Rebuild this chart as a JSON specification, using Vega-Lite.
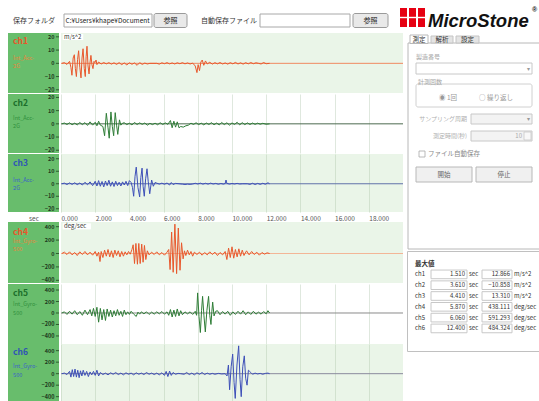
{
"$schema":"https://vega.github.io/schema/vega-lite/v6.json",
"padding":{"left":8,"top":0,"right":0,"bottom":0},
"background":"#ffffff",
"config":{"view":{"stroke":null},"concat":{"spacing":0},"font":"Noto Sans CJK JP","text":{"font":"Noto Sans CJK JP"},"axis":{"labelFont":"Noto Sans CJK JP"}},
"datasets":{
"accT":[{"v":20},{"v":10},{"v":0},{"v":-10},{"v":-20}],
"gyrT":[{"v":400},{"v":200},{"v":0},{"v":-200},{"v":-400}],
"w":[
{"c":"ch1","t":0.05,"v":0},{"c":"ch1","t":0.2,"v":0.5},{"c":"ch1","t":0.35,"v":-0.8},{"c":"ch1","t":0.5,"v":1.5},{"c":"ch1","t":0.58,"v":-3},{"c":"ch1","t":0.64,"v":-9},{"c":"ch1","t":0.71,"v":4},{"c":"ch1","t":0.78,"v":6.5},{"c":"ch1","t":0.84,"v":-4},{"c":"ch1","t":0.9,"v":-10},{"c":"ch1","t":0.97,"v":3},{"c":"ch1","t":1.03,"v":9.5},{"c":"ch1","t":1.1,"v":-3},{"c":"ch1","t":1.17,"v":-11},{"c":"ch1","t":1.23,"v":4},{"c":"ch1","t":1.29,"v":11},{"c":"ch1","t":1.36,"v":-4},{"c":"ch1","t":1.42,"v":-10},{"c":"ch1","t":1.47,"v":5},{"c":"ch1","t":1.52,"v":12.9},{"c":"ch1","t":1.58,"v":-2},{"c":"ch1","t":1.64,"v":-8},{"c":"ch1","t":1.7,"v":1},{"c":"ch1","t":1.75,"v":6},{"c":"ch1","t":1.81,"v":-1},{"c":"ch1","t":1.87,"v":-4},{"c":"ch1","t":1.93,"v":1.5},{"c":"ch1","t":1.98,"v":0.5},{"c":"ch1","t":2.05,"v":2.5},{"c":"ch1","t":2.1,"v":-1},{"c":"ch1","t":2.2,"v":1},{"c":"ch1","t":2.35,"v":-0.5},{"c":"ch1","t":2.5,"v":0.6},{"c":"ch1","t":2.65,"v":-0.4},{"c":"ch1","t":2.8,"v":0.5},{"c":"ch1","t":2.95,"v":-0.6},{"c":"ch1","t":3.1,"v":0.4},{"c":"ch1","t":3.25,"v":-0.8},{"c":"ch1","t":3.4,"v":0.5},{"c":"ch1","t":3.55,"v":-1},{"c":"ch1","t":3.7,"v":0.3},{"c":"ch1","t":3.85,"v":-1.2},{"c":"ch1","t":4.0,"v":0.4},{"c":"ch1","t":4.15,"v":-0.7},{"c":"ch1","t":4.3,"v":0.3},{"c":"ch1","t":4.45,"v":-1.5},{"c":"ch1","t":4.6,"v":0.5},{"c":"ch1","t":4.75,"v":-0.8},{"c":"ch1","t":4.9,"v":0.2},{"c":"ch1","t":5.05,"v":-0.5},{"c":"ch1","t":5.2,"v":0},{"c":"ch1","t":5.6,"v":0},{"c":"ch1","t":5.75,"v":-0.6},{"c":"ch1","t":5.9,"v":0.4},{"c":"ch1","t":6.05,"v":-0.3},{"c":"ch1","t":6.2,"v":0.5},{"c":"ch1","t":6.35,"v":-0.4},{"c":"ch1","t":6.5,"v":0.3},{"c":"ch1","t":6.65,"v":-0.5},{"c":"ch1","t":6.8,"v":0.4},{"c":"ch1","t":6.95,"v":-0.3},{"c":"ch1","t":7.1,"v":0.5},{"c":"ch1","t":7.25,"v":-0.4},{"c":"ch1","t":7.4,"v":0.3},{"c":"ch1","t":7.55,"v":-0.5},{"c":"ch1","t":7.7,"v":0.2},{"c":"ch1","t":7.85,"v":-2},{"c":"ch1","t":7.95,"v":-7},{"c":"ch1","t":8.02,"v":-1},{"c":"ch1","t":8.1,"v":-5.5},{"c":"ch1","t":8.18,"v":1},{"c":"ch1","t":8.26,"v":2.5},{"c":"ch1","t":8.35,"v":-1.5},{"c":"ch1","t":8.45,"v":1.8},{"c":"ch1","t":8.55,"v":-0.5},{"c":"ch1","t":8.7,"v":0.8},{"c":"ch1","t":8.85,"v":-0.6},{"c":"ch1","t":9.0,"v":0.5},{"c":"ch1","t":9.15,"v":-0.4},{"c":"ch1","t":9.3,"v":0.6},{"c":"ch1","t":9.45,"v":-0.5},{"c":"ch1","t":9.6,"v":0.3},{"c":"ch1","t":9.75,"v":-0.6},{"c":"ch1","t":9.9,"v":0.5},{"c":"ch1","t":10.05,"v":-0.4},{"c":"ch1","t":10.2,"v":0.7},{"c":"ch1","t":10.35,"v":-0.5},{"c":"ch1","t":10.5,"v":0.4},{"c":"ch1","t":10.65,"v":-0.6},{"c":"ch1","t":10.8,"v":0.5},{"c":"ch1","t":10.95,"v":-0.4},{"c":"ch1","t":11.1,"v":0.6},{"c":"ch1","t":11.25,"v":-0.3},{"c":"ch1","t":11.4,"v":0.4},{"c":"ch1","t":11.55,"v":0},{"c":"ch1","t":11.7,"v":-0.5},{"c":"ch1","t":11.85,"v":0.6},{"c":"ch1","t":12.0,"v":-0.3},{"c":"ch1","t":12.2,"v":0},
{"c":"ch2","t":0.05,"v":0},{"c":"ch2","t":0.2,"v":0.6},{"c":"ch2","t":0.35,"v":-0.5},{"c":"ch2","t":0.5,"v":0.8},{"c":"ch2","t":0.65,"v":-0.7},{"c":"ch2","t":0.8,"v":0.5},{"c":"ch2","t":0.95,"v":-0.8},{"c":"ch2","t":1.1,"v":1},{"c":"ch2","t":1.25,"v":-0.6},{"c":"ch2","t":1.4,"v":0.9},{"c":"ch2","t":1.55,"v":-1.2},{"c":"ch2","t":1.7,"v":1.5},{"c":"ch2","t":1.85,"v":-1},{"c":"ch2","t":2.0,"v":1.2},{"c":"ch2","t":2.1,"v":-1.5},{"c":"ch2","t":2.2,"v":2},{"c":"ch2","t":2.3,"v":-1},{"c":"ch2","t":2.45,"v":-2},{"c":"ch2","t":2.55,"v":-9},{"c":"ch2","t":2.65,"v":8},{"c":"ch2","t":2.75,"v":-3},{"c":"ch2","t":2.82,"v":-10.9},{"c":"ch2","t":2.92,"v":9},{"c":"ch2","t":3.0,"v":-2},{"c":"ch2","t":3.08,"v":-9},{"c":"ch2","t":3.17,"v":8.5},{"c":"ch2","t":3.25,"v":-1},{"c":"ch2","t":3.32,"v":-8},{"c":"ch2","t":3.42,"v":3},{"c":"ch2","t":3.5,"v":-1},{"c":"ch2","t":3.6,"v":0.5},{"c":"ch2","t":3.7,"v":0.8},{"c":"ch2","t":3.85,"v":-0.6},{"c":"ch2","t":4.0,"v":0.5},{"c":"ch2","t":4.15,"v":-0.8},{"c":"ch2","t":4.3,"v":1},{"c":"ch2","t":4.45,"v":-0.5},{"c":"ch2","t":4.6,"v":0.7},{"c":"ch2","t":4.75,"v":-0.4},{"c":"ch2","t":4.9,"v":0.6},{"c":"ch2","t":5.05,"v":-1},{"c":"ch2","t":5.2,"v":0.4},{"c":"ch2","t":5.35,"v":-0.6},{"c":"ch2","t":5.5,"v":0.5},{"c":"ch2","t":5.65,"v":-0.7},{"c":"ch2","t":5.8,"v":0.8},{"c":"ch2","t":5.95,"v":-0.5},{"c":"ch2","t":6.1,"v":0.7},{"c":"ch2","t":6.25,"v":-0.4},{"c":"ch2","t":6.4,"v":2.5},{"c":"ch2","t":6.5,"v":-3},{"c":"ch2","t":6.6,"v":2},{"c":"ch2","t":6.7,"v":-2.5},{"c":"ch2","t":6.8,"v":1.5},{"c":"ch2","t":6.9,"v":-3},{"c":"ch2","t":7.0,"v":-2},{"c":"ch2","t":7.15,"v":-2.5},{"c":"ch2","t":7.3,"v":-1.5},{"c":"ch2","t":7.45,"v":-1},{"c":"ch2","t":7.6,"v":0.5},{"c":"ch2","t":7.75,"v":-0.5},{"c":"ch2","t":7.9,"v":0.8},{"c":"ch2","t":8.05,"v":-0.6},{"c":"ch2","t":8.2,"v":0.5},{"c":"ch2","t":8.35,"v":-0.8},{"c":"ch2","t":8.5,"v":0.6},{"c":"ch2","t":8.65,"v":-0.5},{"c":"ch2","t":8.8,"v":0.9},{"c":"ch2","t":8.95,"v":-0.7},{"c":"ch2","t":9.1,"v":0.6},{"c":"ch2","t":9.25,"v":-0.8},{"c":"ch2","t":9.4,"v":1},{"c":"ch2","t":9.55,"v":-0.6},{"c":"ch2","t":9.7,"v":0.8},{"c":"ch2","t":9.85,"v":-1},{"c":"ch2","t":10.0,"v":0.7},{"c":"ch2","t":10.15,"v":-0.5},{"c":"ch2","t":10.3,"v":1.2},{"c":"ch2","t":10.45,"v":-0.8},{"c":"ch2","t":10.6,"v":0.9},{"c":"ch2","t":10.75,"v":-0.6},{"c":"ch2","t":10.9,"v":0.7},{"c":"ch2","t":11.05,"v":-0.5},{"c":"ch2","t":11.2,"v":0.6},{"c":"ch2","t":11.35,"v":-0.4},{"c":"ch2","t":11.5,"v":0.5},{"c":"ch2","t":11.65,"v":-0.3},{"c":"ch2","t":11.8,"v":0.4},{"c":"ch2","t":12.0,"v":-0.3},{"c":"ch2","t":12.2,"v":0},
{"c":"ch3","t":0.05,"v":0},{"c":"ch3","t":0.2,"v":0.5},{"c":"ch3","t":0.35,"v":-0.6},{"c":"ch3","t":0.5,"v":0.7},{"c":"ch3","t":0.65,"v":-0.5},{"c":"ch3","t":0.8,"v":0.8},{"c":"ch3","t":0.95,"v":-0.7},{"c":"ch3","t":1.1,"v":0.6},{"c":"ch3","t":1.25,"v":-1},{"c":"ch3","t":1.4,"v":1.2},{"c":"ch3","t":1.55,"v":-0.8},{"c":"ch3","t":1.7,"v":1.5},{"c":"ch3","t":1.85,"v":-1.5},{"c":"ch3","t":2.0,"v":2},{"c":"ch3","t":2.1,"v":-1.8},{"c":"ch3","t":2.2,"v":2.5},{"c":"ch3","t":2.3,"v":-2},{"c":"ch3","t":2.4,"v":1.8},{"c":"ch3","t":2.5,"v":-2.5},{"c":"ch3","t":2.6,"v":2.2},{"c":"ch3","t":2.7,"v":-1.5},{"c":"ch3","t":2.8,"v":2.8},{"c":"ch3","t":2.9,"v":-2},{"c":"ch3","t":3.0,"v":1.5},{"c":"ch3","t":3.1,"v":-2.2},{"c":"ch3","t":3.2,"v":2},{"c":"ch3","t":3.3,"v":-1.5},{"c":"ch3","t":3.4,"v":1.2},{"c":"ch3","t":3.5,"v":-1.8},{"c":"ch3","t":3.6,"v":1.5},{"c":"ch3","t":3.7,"v":-1},{"c":"ch3","t":3.8,"v":2},{"c":"ch3","t":3.9,"v":-1.5},{"c":"ch3","t":4.0,"v":2.5},{"c":"ch3","t":4.1,"v":1},{"c":"ch3","t":4.18,"v":-3},{"c":"ch3","t":4.25,"v":-10},{"c":"ch3","t":4.33,"v":6},{"c":"ch3","t":4.4,"v":13.3},{"c":"ch3","t":4.5,"v":-3},{"c":"ch3","t":4.6,"v":-10.5},{"c":"ch3","t":4.67,"v":5},{"c":"ch3","t":4.74,"v":12.5},{"c":"ch3","t":4.8,"v":-2},{"c":"ch3","t":4.87,"v":-10},{"c":"ch3","t":4.95,"v":4},{"c":"ch3","t":5.03,"v":12},{"c":"ch3","t":5.1,"v":2},{"c":"ch3","t":5.19,"v":-8},{"c":"ch3","t":5.3,"v":3},{"c":"ch3","t":5.4,"v":-2},{"c":"ch3","t":5.5,"v":1},{"c":"ch3","t":5.6,"v":0.5},{"c":"ch3","t":5.75,"v":-0.3},{"c":"ch3","t":5.9,"v":0.5},{"c":"ch3","t":6.05,"v":-0.4},{"c":"ch3","t":6.2,"v":0.6},{"c":"ch3","t":6.35,"v":-1},{"c":"ch3","t":6.45,"v":1},{"c":"ch3","t":6.55,"v":-0.6},{"c":"ch3","t":6.7,"v":0.3},{"c":"ch3","t":6.9,"v":0},{"c":"ch3","t":7.1,"v":-0.3},{"c":"ch3","t":7.25,"v":-0.6},{"c":"ch3","t":7.4,"v":-0.3},{"c":"ch3","t":7.55,"v":-0.5},{"c":"ch3","t":7.7,"v":-0.2},{"c":"ch3","t":7.85,"v":0.4},{"c":"ch3","t":8.0,"v":-0.2},{"c":"ch3","t":8.15,"v":0.5},{"c":"ch3","t":8.3,"v":-0.3},{"c":"ch3","t":8.45,"v":0.4},{"c":"ch3","t":8.6,"v":-0.3},{"c":"ch3","t":8.75,"v":0.5},{"c":"ch3","t":8.9,"v":-0.2},{"c":"ch3","t":9.05,"v":0.3},{"c":"ch3","t":9.2,"v":-0.4},{"c":"ch3","t":9.35,"v":0.2},{"c":"ch3","t":9.5,"v":-0.3},{"c":"ch3","t":9.6,"v":0.2},{"c":"ch3","t":9.65,"v":3},{"c":"ch3","t":9.7,"v":0.3},{"c":"ch3","t":9.85,"v":-0.3},{"c":"ch3","t":10.0,"v":0.2},{"c":"ch3","t":10.15,"v":-0.2},{"c":"ch3","t":10.3,"v":0.3},{"c":"ch3","t":10.45,"v":-0.2},{"c":"ch3","t":10.6,"v":0},{"c":"ch3","t":10.9,"v":0},{"c":"ch3","t":11.05,"v":-0.5},{"c":"ch3","t":11.2,"v":0.4},{"c":"ch3","t":11.35,"v":-0.6},{"c":"ch3","t":11.5,"v":0.3},{"c":"ch3","t":11.65,"v":-0.5},{"c":"ch3","t":11.8,"v":0.4},{"c":"ch3","t":11.95,"v":-0.4},{"c":"ch3","t":12.1,"v":0.8},{"c":"ch3","t":12.2,"v":0},
{"c":"ch4","t":0.05,"v":0},{"c":"ch4","t":0.2,"v":20},{"c":"ch4","t":0.35,"v":-15},{"c":"ch4","t":0.5,"v":25},{"c":"ch4","t":0.65,"v":-20},{"c":"ch4","t":0.8,"v":15},{"c":"ch4","t":0.95,"v":-30},{"c":"ch4","t":1.1,"v":25},{"c":"ch4","t":1.25,"v":-15},{"c":"ch4","t":1.4,"v":30},{"c":"ch4","t":1.55,"v":-20},{"c":"ch4","t":1.7,"v":20},{"c":"ch4","t":1.85,"v":-25},{"c":"ch4","t":2.0,"v":30},{"c":"ch4","t":2.1,"v":-40},{"c":"ch4","t":2.2,"v":20},{"c":"ch4","t":2.28,"v":-120},{"c":"ch4","t":2.35,"v":30},{"c":"ch4","t":2.45,"v":-60},{"c":"ch4","t":2.55,"v":50},{"c":"ch4","t":2.65,"v":-40},{"c":"ch4","t":2.75,"v":60},{"c":"ch4","t":2.85,"v":-50},{"c":"ch4","t":2.95,"v":40},{"c":"ch4","t":3.05,"v":-60},{"c":"ch4","t":3.15,"v":50},{"c":"ch4","t":3.25,"v":-30},{"c":"ch4","t":3.35,"v":40},{"c":"ch4","t":3.45,"v":-50},{"c":"ch4","t":3.55,"v":30},{"c":"ch4","t":3.65,"v":-40},{"c":"ch4","t":3.75,"v":25},{"c":"ch4","t":3.85,"v":-20},{"c":"ch4","t":3.95,"v":30},{"c":"ch4","t":4.05,"v":-10},{"c":"ch4","t":4.15,"v":60},{"c":"ch4","t":4.22,"v":130},{"c":"ch4","t":4.3,"v":-150},{"c":"ch4","t":4.38,"v":150},{"c":"ch4","t":4.47,"v":-160},{"c":"ch4","t":4.55,"v":150},{"c":"ch4","t":4.63,"v":-150},{"c":"ch4","t":4.72,"v":140},{"c":"ch4","t":4.8,"v":-130},{"c":"ch4","t":4.88,"v":120},{"c":"ch4","t":4.96,"v":-90},{"c":"ch4","t":5.05,"v":40},{"c":"ch4","t":5.15,"v":-20},{"c":"ch4","t":5.3,"v":20},{"c":"ch4","t":5.45,"v":-15},{"c":"ch4","t":5.6,"v":25},{"c":"ch4","t":5.75,"v":-20},{"c":"ch4","t":5.9,"v":15},{"c":"ch4","t":6.05,"v":-25},{"c":"ch4","t":6.2,"v":20},{"c":"ch4","t":6.3,"v":60},{"c":"ch4","t":6.38,"v":-240},{"c":"ch4","t":6.47,"v":320},{"c":"ch4","t":6.56,"v":-280},{"c":"ch4","t":6.66,"v":438},{"c":"ch4","t":6.76,"v":-300},{"c":"ch4","t":6.86,"v":380},{"c":"ch4","t":6.96,"v":-250},{"c":"ch4","t":7.05,"v":160},{"c":"ch4","t":7.14,"v":-80},{"c":"ch4","t":7.22,"v":40},{"c":"ch4","t":7.3,"v":-30},{"c":"ch4","t":7.4,"v":50},{"c":"ch4","t":7.5,"v":-20},{"c":"ch4","t":7.6,"v":30},{"c":"ch4","t":7.7,"v":-40},{"c":"ch4","t":7.8,"v":20},{"c":"ch4","t":7.95,"v":-15},{"c":"ch4","t":8.1,"v":20},{"c":"ch4","t":8.25,"v":-25},{"c":"ch4","t":8.4,"v":15},{"c":"ch4","t":8.55,"v":-20},{"c":"ch4","t":8.7,"v":25},{"c":"ch4","t":8.85,"v":-15},{"c":"ch4","t":9.0,"v":20},{"c":"ch4","t":9.15,"v":-30},{"c":"ch4","t":9.3,"v":15},{"c":"ch4","t":9.45,"v":-20},{"c":"ch4","t":9.6,"v":30},{"c":"ch4","t":9.7,"v":-90},{"c":"ch4","t":9.8,"v":80},{"c":"ch4","t":9.9,"v":-60},{"c":"ch4","t":10.0,"v":100},{"c":"ch4","t":10.1,"v":-70},{"c":"ch4","t":10.2,"v":60},{"c":"ch4","t":10.3,"v":-50},{"c":"ch4","t":10.4,"v":70},{"c":"ch4","t":10.5,"v":-40},{"c":"ch4","t":10.6,"v":50},{"c":"ch4","t":10.7,"v":-30},{"c":"ch4","t":10.85,"v":40},{"c":"ch4","t":11.0,"v":-20},{"c":"ch4","t":11.15,"v":30},{"c":"ch4","t":11.3,"v":-15},{"c":"ch4","t":11.45,"v":20},{"c":"ch4","t":11.6,"v":-25},{"c":"ch4","t":11.75,"v":15},{"c":"ch4","t":11.9,"v":-10},{"c":"ch4","t":12.05,"v":10},{"c":"ch4","t":12.2,"v":0},
{"c":"ch5","t":0.05,"v":0},{"c":"ch5","t":0.2,"v":20},{"c":"ch5","t":0.35,"v":-25},{"c":"ch5","t":0.5,"v":30},{"c":"ch5","t":0.65,"v":-20},{"c":"ch5","t":0.8,"v":40},{"c":"ch5","t":0.95,"v":-30},{"c":"ch5","t":1.1,"v":25},{"c":"ch5","t":1.25,"v":-40},{"c":"ch5","t":1.4,"v":50},{"c":"ch5","t":1.55,"v":-30},{"c":"ch5","t":1.7,"v":60},{"c":"ch5","t":1.8,"v":-50},{"c":"ch5","t":1.9,"v":80},{"c":"ch5","t":2.0,"v":-60},{"c":"ch5","t":2.1,"v":100},{"c":"ch5","t":2.2,"v":-160},{"c":"ch5","t":2.3,"v":80},{"c":"ch5","t":2.4,"v":-120},{"c":"ch5","t":2.5,"v":60},{"c":"ch5","t":2.6,"v":-130},{"c":"ch5","t":2.7,"v":70},{"c":"ch5","t":2.8,"v":-60},{"c":"ch5","t":2.9,"v":50},{"c":"ch5","t":3.0,"v":-70},{"c":"ch5","t":3.1,"v":40},{"c":"ch5","t":3.2,"v":-50},{"c":"ch5","t":3.3,"v":60},{"c":"ch5","t":3.4,"v":-40},{"c":"ch5","t":3.5,"v":30},{"c":"ch5","t":3.6,"v":-60},{"c":"ch5","t":3.7,"v":50},{"c":"ch5","t":3.8,"v":-30},{"c":"ch5","t":3.9,"v":20},{"c":"ch5","t":4.0,"v":-25},{"c":"ch5","t":4.1,"v":30},{"c":"ch5","t":4.25,"v":-20},{"c":"ch5","t":4.4,"v":-60},{"c":"ch5","t":4.5,"v":15},{"c":"ch5","t":4.6,"v":-20},{"c":"ch5","t":4.7,"v":20},{"c":"ch5","t":4.85,"v":-15},{"c":"ch5","t":5.0,"v":20},{"c":"ch5","t":5.15,"v":-25},{"c":"ch5","t":5.3,"v":15},{"c":"ch5","t":5.45,"v":-20},{"c":"ch5","t":5.6,"v":20},{"c":"ch5","t":5.75,"v":-15},{"c":"ch5","t":5.9,"v":25},{"c":"ch5","t":6.05,"v":-20},{"c":"ch5","t":6.2,"v":20},{"c":"ch5","t":6.3,"v":-40},{"c":"ch5","t":6.4,"v":60},{"c":"ch5","t":6.5,"v":-70},{"c":"ch5","t":6.6,"v":50},{"c":"ch5","t":6.7,"v":-60},{"c":"ch5","t":6.8,"v":70},{"c":"ch5","t":6.9,"v":-50},{"c":"ch5","t":7.0,"v":40},{"c":"ch5","t":7.1,"v":-30},{"c":"ch5","t":7.25,"v":20},{"c":"ch5","t":7.4,"v":-15},{"c":"ch5","t":7.55,"v":20},{"c":"ch5","t":7.7,"v":-25},{"c":"ch5","t":7.85,"v":30},{"c":"ch5","t":7.93,"v":-40},{"c":"ch5","t":7.99,"v":350},{"c":"ch5","t":8.07,"v":-60},{"c":"ch5","t":8.15,"v":-340},{"c":"ch5","t":8.22,"v":40},{"c":"ch5","t":8.28,"v":290},{"c":"ch5","t":8.36,"v":-50},{"c":"ch5","t":8.44,"v":-330},{"c":"ch5","t":8.53,"v":40},{"c":"ch5","t":8.63,"v":290},{"c":"ch5","t":8.7,"v":-40},{"c":"ch5","t":8.77,"v":-200},{"c":"ch5","t":8.82,"v":20},{"c":"ch5","t":8.87,"v":190},{"c":"ch5","t":8.95,"v":-50},{"c":"ch5","t":9.05,"v":30},{"c":"ch5","t":9.15,"v":40},{"c":"ch5","t":9.3,"v":-30},{"c":"ch5","t":9.45,"v":25},{"c":"ch5","t":9.6,"v":-20},{"c":"ch5","t":9.75,"v":30},{"c":"ch5","t":9.9,"v":-40},{"c":"ch5","t":10.05,"v":20},{"c":"ch5","t":10.2,"v":-25},{"c":"ch5","t":10.35,"v":30},{"c":"ch5","t":10.5,"v":-20},{"c":"ch5","t":10.65,"v":40},{"c":"ch5","t":10.8,"v":-30},{"c":"ch5","t":10.95,"v":20},{"c":"ch5","t":11.1,"v":-25},{"c":"ch5","t":11.25,"v":30},{"c":"ch5","t":11.4,"v":-20},{"c":"ch5","t":11.55,"v":15},{"c":"ch5","t":11.7,"v":-20},{"c":"ch5","t":11.85,"v":25},{"c":"ch5","t":12.0,"v":-15},{"c":"ch5","t":12.1,"v":40},{"c":"ch5","t":12.2,"v":0},
{"c":"ch6","t":0.05,"v":0},{"c":"ch6","t":0.2,"v":10},{"c":"ch6","t":0.35,"v":-15},{"c":"ch6","t":0.5,"v":40},{"c":"ch6","t":0.58,"v":-60},{"c":"ch6","t":0.66,"v":70},{"c":"ch6","t":0.74,"v":-50},{"c":"ch6","t":0.82,"v":80},{"c":"ch6","t":0.9,"v":-60},{"c":"ch6","t":0.98,"v":60},{"c":"ch6","t":1.06,"v":-70},{"c":"ch6","t":1.14,"v":50},{"c":"ch6","t":1.22,"v":-40},{"c":"ch6","t":1.3,"v":60},{"c":"ch6","t":1.4,"v":-30},{"c":"ch6","t":1.5,"v":40},{"c":"ch6","t":1.6,"v":-50},{"c":"ch6","t":1.7,"v":30},{"c":"ch6","t":1.8,"v":-20},{"c":"ch6","t":1.9,"v":40},{"c":"ch6","t":2.0,"v":-30},{"c":"ch6","t":2.1,"v":60},{"c":"ch6","t":2.2,"v":-40},{"c":"ch6","t":2.3,"v":20},{"c":"ch6","t":2.45,"v":-15},{"c":"ch6","t":2.6,"v":10},{"c":"ch6","t":2.75,"v":-20},{"c":"ch6","t":2.9,"v":15},{"c":"ch6","t":3.05,"v":-10},{"c":"ch6","t":3.2,"v":20},{"c":"ch6","t":3.35,"v":-15},{"c":"ch6","t":3.5,"v":10},{"c":"ch6","t":3.65,"v":-20},{"c":"ch6","t":3.8,"v":15},{"c":"ch6","t":3.95,"v":-10},{"c":"ch6","t":4.1,"v":10},{"c":"ch6","t":4.25,"v":-20},{"c":"ch6","t":4.4,"v":15},{"c":"ch6","t":4.55,"v":-10},{"c":"ch6","t":4.7,"v":10},{"c":"ch6","t":4.85,"v":-15},{"c":"ch6","t":5.0,"v":20},{"c":"ch6","t":5.15,"v":-10},{"c":"ch6","t":5.3,"v":10},{"c":"ch6","t":5.45,"v":-15},{"c":"ch6","t":5.6,"v":10},{"c":"ch6","t":5.75,"v":-20},{"c":"ch6","t":5.9,"v":15},{"c":"ch6","t":6.05,"v":-30},{"c":"ch6","t":6.15,"v":40},{"c":"ch6","t":6.25,"v":-50},{"c":"ch6","t":6.35,"v":45},{"c":"ch6","t":6.45,"v":-30},{"c":"ch6","t":6.55,"v":20},{"c":"ch6","t":6.7,"v":-10},{"c":"ch6","t":6.85,"v":5},{"c":"ch6","t":7.0,"v":0},{"c":"ch6","t":7.2,"v":-10},{"c":"ch6","t":7.35,"v":20},{"c":"ch6","t":7.5,"v":-15},{"c":"ch6","t":7.65,"v":10},{"c":"ch6","t":7.8,"v":-20},{"c":"ch6","t":7.95,"v":15},{"c":"ch6","t":8.1,"v":-10},{"c":"ch6","t":8.25,"v":20},{"c":"ch6","t":8.4,"v":-15},{"c":"ch6","t":8.55,"v":10},{"c":"ch6","t":8.7,"v":-10},{"c":"ch6","t":8.85,"v":5},{"c":"ch6","t":9.0,"v":-10},{"c":"ch6","t":9.2,"v":5},{"c":"ch6","t":9.4,"v":-5},{"c":"ch6","t":9.6,"v":0},{"c":"ch6","t":9.71,"v":-40},{"c":"ch6","t":9.79,"v":150},{"c":"ch6","t":9.86,"v":-280},{"c":"ch6","t":9.95,"v":120},{"c":"ch6","t":10.04,"v":340},{"c":"ch6","t":10.12,"v":-150},{"c":"ch6","t":10.19,"v":-430},{"c":"ch6","t":10.29,"v":150},{"c":"ch6","t":10.39,"v":484},{"c":"ch6","t":10.47,"v":-100},{"c":"ch6","t":10.54,"v":-400},{"c":"ch6","t":10.63,"v":120},{"c":"ch6","t":10.72,"v":310},{"c":"ch6","t":10.8,"v":-80},{"c":"ch6","t":10.88,"v":-200},{"c":"ch6","t":10.96,"v":60},{"c":"ch6","t":11.03,"v":40},{"c":"ch6","t":11.1,"v":20},{"c":"ch6","t":11.2,"v":-10},{"c":"ch6","t":11.35,"v":10},{"c":"ch6","t":11.5,"v":-5},{"c":"ch6","t":11.65,"v":5},{"c":"ch6","t":11.8,"v":-10},{"c":"ch6","t":11.95,"v":5},{"c":"ch6","t":12.1,"v":10},{"c":"ch6","t":12.2,"v":0}
],
"mx":[
{"ch":"ch1","time":1.51,"val":12.866,"unit":"m/s^2"},
{"ch":"ch2","time":3.61,"val":-10.858,"unit":"m/s^2"},
{"ch":"ch3","time":4.41,"val":13.31,"unit":"m/s^2"},
{"ch":"ch4","time":5.87,"val":438.111,"unit":"deg/sec"},
{"ch":"ch5","time":6.06,"val":591.293,"unit":"deg/sec"},
{"ch":"ch6","time":12.4,"val":484.324,"unit":"deg/sec"}
]
},
"spacing":0,
"vconcat":[
{"width":531,"height":33,"data":{"values":[{}]},
 "layer":[
  {"mark":{"type":"rect","fill":"#ffffff","stroke":"#a8a8a8","strokeWidth":1},"encoding":{"x":{"datum":56,"type":"quantitative","scale":{"domain":[0,531],"nice":false,"zero":false},"axis":null},"x2":{"datum":144},"y":{"datum":14,"type":"quantitative","scale":{"domain":[0,33],"reverse":true,"nice":false,"zero":false},"axis":null},"y2":{"datum":27}}},
  {"mark":{"type":"text","text":"C:¥Users¥khape¥Document","align":"left","baseline":"middle","fontSize":6.5,"color":"#222222"},"encoding":{"x":{"datum":57.5,"axis":null},"y":{"datum":20.5,"axis":null}}},
  {"mark":{"type":"rect","fill":"#e9e9e9","stroke":"#9a9a9a","strokeWidth":1,"cornerRadius":2},"encoding":{"x":{"datum":146,"axis":null},"x2":{"datum":179},"y":{"datum":13.5,"axis":null},"y2":{"datum":27.5}}},
  {"mark":{"type":"text","text":"参照","baseline":"middle","fontSize":7,"color":"#222222"},"encoding":{"x":{"datum":162.5,"axis":null},"y":{"datum":20.5,"axis":null}}},
  {"mark":{"type":"text","text":"保存フォルダ","baseline":"middle","fontSize":7,"color":"#333333"},"encoding":{"x":{"datum":26,"axis":null},"y":{"datum":20.5,"axis":null}}},
  {"mark":{"type":"text","text":"自動保存ファイル","baseline":"middle","fontSize":7,"color":"#333333"},"encoding":{"x":{"datum":221,"axis":null},"y":{"datum":20.5,"axis":null}}},
  {"mark":{"type":"rect","fill":"#ffffff","stroke":"#a8a8a8","strokeWidth":1},"encoding":{"x":{"datum":252,"axis":null},"x2":{"datum":342},"y":{"datum":14,"axis":null},"y2":{"datum":27}}},
  {"mark":{"type":"rect","fill":"#e9e9e9","stroke":"#9a9a9a","strokeWidth":1,"cornerRadius":2},"encoding":{"x":{"datum":345,"axis":null},"x2":{"datum":380},"y":{"datum":13.5,"axis":null},"y2":{"datum":27.5}}},
  {"mark":{"type":"text","text":"参照","baseline":"middle","fontSize":7,"color":"#222222"},"encoding":{"x":{"datum":362.5,"axis":null},"y":{"datum":20.5,"axis":null}}},
  {"mark":{"type":"rect","fill":"#e60012"},"encoding":{"x":{"datum":392,"axis":null},"x2":{"datum":399},"y":{"datum":8,"axis":null},"y2":{"datum":27}}},
  {"mark":{"type":"rect","fill":"#e60012"},"encoding":{"x":{"datum":401,"axis":null},"x2":{"datum":408},"y":{"datum":8,"axis":null},"y2":{"datum":27}}},
  {"mark":{"type":"rect","fill":"#e60012"},"encoding":{"x":{"datum":410,"axis":null},"x2":{"datum":417},"y":{"datum":8,"axis":null},"y2":{"datum":27}}},
  {"mark":{"type":"rect","fill":"#ffffff"},"encoding":{"x":{"datum":391,"axis":null},"x2":{"datum":418},"y":{"datum":16.8,"axis":null},"y2":{"datum":18.2}}},
  {"mark":{"type":"text","text":"MicroStone","align":"left","baseline":"alphabetic","font":"Liberation Sans","fontSize":18.5,"fontWeight":"bold","fontStyle":"italic","color":"#111111"},"encoding":{"x":{"datum":420,"axis":null},"y":{"datum":27,"axis":null}}},
  {"mark":{"type":"text","text":"®","align":"left","baseline":"middle","font":"Liberation Sans","fontSize":7,"fontWeight":"bold","color":"#111111"},"encoding":{"x":{"datum":524,"axis":null},"y":{"datum":10,"axis":null}}}
 ]},
{"hconcat":[
 {"spacing":0,"vconcat":[
  {"spacing":0,"hconcat":[
   {"width":51,"height":60,"view":{"fill":"#68bd6c","stroke":null},"data":{"values":[{}]},
    "encoding":{"x":{"datum":0.1,"type":"quantitative","scale":{"domain":[0,1]},"axis":null}},
    "layer":[
     {"data":{"name":"accT"},"mark":{"type":"rule","color":"#2e5e30","strokeWidth":1},"encoding":{"x":{"datum":0.94,"axis":null},"x2":{"datum":1},"y":{"field":"v","type":"quantitative","scale":{"domain":[-22.4,22.9],"nice":false,"zero":false},"axis":null}}},
     {"data":{"name":"accT"},"mark":{"type":"text","align":"right","baseline":"middle","fontSize":5.5,"fontWeight":"bold","color":"#1e3a1e"},"encoding":{"x":{"datum":0.91,"axis":null},"y":{"field":"v","type":"quantitative","axis":null},"text":{"field":"v","type":"quantitative"}}},
     {"mark":{"type":"text","text":"ch1","align":"left","baseline":"middle","fontSize":8.5,"fontWeight":"bold","color":"#e8562a"},"encoding":{"y":{"datum":17,"axis":null}}},
     {"mark":{"type":"text","text":"Int_Acc-","align":"left","baseline":"middle","fontSize":5.5,"color":"#e8843c"},"encoding":{"y":{"datum":4,"axis":null}}},
     {"mark":{"type":"text","text":"2G","align":"left","baseline":"middle","fontSize":5.5,"color":"#e8843c"},"encoding":{"y":{"datum":-2.3,"axis":null}}}
    ]},
   {"width":342,"height":60,"view":{"fill":"#eaf5e8","stroke":null},
    "layer":[
     {"data":{"values":[{}]},"mark":{"type":"rule","color":"#f08a62","strokeWidth":1},"encoding":{"y":{"datum":0,"type":"quantitative","axis":null}}},
     {"data":{"name":"w"},"transform":[{"filter":"datum.c=='ch1'"}],"mark":{"type":"line","color":"#e8582c","strokeWidth":1,"clip":true},
      "encoding":{"x":{"field":"t","type":"quantitative","scale":{"domain":[0,20],"nice":false,"zero":false},"axis":{"values":[0,2,4,6,8,10,12,14,16,18],"grid":true,"gridColor":"#d2e2cf","labels":false,"ticks":false,"domain":false,"title":null}},
       "y":{"field":"v","type":"quantitative","scale":{"domain":[-22.4,22.9],"nice":false,"zero":false},"axis":{"values":[-20,-15,-10,-5,0,5,10,15,20],"grid":true,"gridColor":"#d2e2cf","labels":false,"ticks":false,"domain":false,"title":null}}}},
     {"data":{"values":[{}]},"mark":{"type":"rect","color":"#ffffff"},"encoding":{"x":{"datum":0.1,"axis":null},"x2":{"datum":1.3},"y":{"datum":17.6,"axis":null},"y2":{"datum":22.2}}},
     {"data":{"values":[{}]},"mark":{"type":"text","text":"m/s^2","align":"left","baseline":"middle","fontSize":6,"color":"#333333"},"encoding":{"x":{"datum":0.18,"axis":null},"y":{"datum":19.9,"axis":null}}}
    ]}
  ]},
  {"spacing":0,"hconcat":[
   {"width":51,"height":59,"view":{"fill":"#68bd6c","stroke":null},"data":{"values":[{}]},
    "encoding":{"x":{"datum":0.1,"type":"quantitative","scale":{"domain":[0,1]},"axis":null}},
    "layer":[
     {"data":{"name":"accT"},"mark":{"type":"rule","color":"#2e5e30","strokeWidth":1},"encoding":{"x":{"datum":0.94,"axis":null},"x2":{"datum":1},"y":{"field":"v","type":"quantitative","scale":{"domain":[-22.1,22.6],"nice":false,"zero":false},"axis":null}}},
     {"data":{"name":"accT"},"mark":{"type":"text","align":"right","baseline":"middle","fontSize":5.5,"fontWeight":"bold","color":"#1e3a1e"},"encoding":{"x":{"datum":0.91,"axis":null},"y":{"field":"v","type":"quantitative","axis":null},"text":{"field":"v","type":"quantitative"}}},
     {"mark":{"type":"text","text":"ch2","align":"left","baseline":"middle","fontSize":8.5,"fontWeight":"bold","color":"#1b6e2a"},"encoding":{"y":{"datum":15.6,"axis":null}}},
     {"mark":{"type":"text","text":"Int_Acc-","align":"left","baseline":"middle","fontSize":5.5,"color":"#2f8f3c"},"encoding":{"y":{"datum":4.6,"axis":null}}},
     {"mark":{"type":"text","text":"2G","align":"left","baseline":"middle","fontSize":5.5,"color":"#2f8f3c"},"encoding":{"y":{"datum":-1.8,"axis":null}}}
    ]},
   {"width":342,"height":59,"view":{"fill":"#ffffff","stroke":null},
    "layer":[
     {"data":{"values":[{}]},"mark":{"type":"rule","color":"#4d6b50","strokeWidth":1},"encoding":{"y":{"datum":0,"type":"quantitative","axis":null}}},
     {"data":{"name":"w"},"transform":[{"filter":"datum.c=='ch2'"}],"mark":{"type":"line","color":"#2e7d36","strokeWidth":1,"clip":true},
      "encoding":{"x":{"field":"t","type":"quantitative","scale":{"domain":[0,20],"nice":false,"zero":false},"axis":{"values":[0,2,4,6,8,10,12,14,16,18],"grid":true,"gridColor":"#dfe8de","labels":false,"ticks":false,"domain":false,"title":null}},
       "y":{"field":"v","type":"quantitative","scale":{"domain":[-22.1,22.6],"nice":false,"zero":false},"axis":{"values":[-20,-15,-10,-5,0,5,10,15,20],"grid":true,"gridColor":"#e3ebe2","labels":false,"ticks":false,"domain":false,"title":null}}}}
    ]}
  ]},
  {"spacing":0,"hconcat":[
   {"width":51,"height":58,"view":{"fill":"#68bd6c","stroke":null},"data":{"values":[{}]},
    "encoding":{"x":{"datum":0.1,"type":"quantitative","scale":{"domain":[0,1]},"axis":{"values":[0.5],"labelExpr":"'sec'","domain":false,"ticks":false,"grid":false,"title":null,"labelFontSize":6.5,"labelPadding":3,"labelColor":"#555555","labelFlush":false}}},
    "layer":[
     {"data":{"name":"accT"},"mark":{"type":"rule","color":"#2e5e30","strokeWidth":1},"encoding":{"x":{"datum":0.94,"type":"quantitative","axis":{"values":[0.5],"labelExpr":"'sec'","domain":false,"ticks":false,"grid":false,"title":null,"labelFontSize":6.5,"labelPadding":3,"labelColor":"#555555","labelFlush":false}},"x2":{"datum":1},"y":{"field":"v","type":"quantitative","scale":{"domain":[-22.6,23.8],"nice":false,"zero":false},"axis":null}}},
     {"data":{"name":"accT"},"mark":{"type":"text","align":"right","baseline":"middle","fontSize":5.5,"fontWeight":"bold","color":"#1e3a1e"},"encoding":{"x":{"datum":0.91,"type":"quantitative","axis":{"values":[0.5],"labelExpr":"'sec'","domain":false,"ticks":false,"grid":false,"title":null,"labelFontSize":6.5,"labelPadding":3,"labelColor":"#555555","labelFlush":false}},"y":{"field":"v","type":"quantitative","axis":null},"text":{"field":"v","type":"quantitative"}}},
     {"mark":{"type":"text","text":"ch3","align":"left","baseline":"middle","fontSize":8.5,"fontWeight":"bold","color":"#2f55b5"},"encoding":{"y":{"datum":16.6,"axis":null}}},
     {"mark":{"type":"text","text":"Int_Acc-","align":"left","baseline":"middle","fontSize":5.5,"color":"#3a62c8"},"encoding":{"y":{"datum":3,"axis":null}}},
     {"mark":{"type":"text","text":"2G","align":"left","baseline":"middle","fontSize":5.5,"color":"#3a62c8"},"encoding":{"y":{"datum":-3.6,"axis":null}}}
    ]},
   {"width":342,"height":58,"view":{"fill":"#eaf5e8","stroke":null},
    "layer":[
     {"data":{"values":[{}]},"mark":{"type":"rule","color":"#6272aa","strokeWidth":1},"encoding":{"y":{"datum":0,"type":"quantitative","axis":null}}},
     {"data":{"name":"w"},"transform":[{"filter":"datum.c=='ch3'"}],"mark":{"type":"line","color":"#3d4fb8","strokeWidth":1,"clip":true},
      "encoding":{"x":{"field":"t","type":"quantitative","scale":{"domain":[0,20],"nice":false,"zero":false},"axis":{"values":[0,2,4,6,8,10,12,14,16,18],"grid":true,"gridColor":"#d2e2cf","labels":true,"format":".3f","labelAlign":"left","labelFlush":false,"labelOverlap":false,"labelFontSize":6.5,"labelColor":"#555555","labelPadding":3,"ticks":false,"domain":false,"title":null}},
       "y":{"field":"v","type":"quantitative","scale":{"domain":[-22.6,23.8],"nice":false,"zero":false},"axis":{"values":[-20,-15,-10,-5,0,5,10,15,20],"grid":true,"gridColor":"#d2e2cf","labels":false,"ticks":false,"domain":false,"title":null}}}}
    ]}
  ]},
  {"spacing":0,"hconcat":[
   {"width":51,"height":61,"view":{"fill":"#68bd6c","stroke":null},"data":{"values":[{}]},
    "encoding":{"x":{"datum":0.1,"type":"quantitative","scale":{"domain":[0,1]},"axis":null}},
    "layer":[
     {"data":{"name":"gyrT"},"mark":{"type":"rule","color":"#2e5e30","strokeWidth":1},"encoding":{"x":{"datum":0.94,"axis":null},"x2":{"datum":1},"y":{"field":"v","type":"quantitative","scale":{"domain":[-440,470],"nice":false,"zero":false},"axis":null}}},
     {"data":{"name":"gyrT"},"mark":{"type":"text","align":"right","baseline":"middle","fontSize":5.5,"fontWeight":"bold","color":"#1e3a1e"},"encoding":{"x":{"datum":0.91,"axis":null},"y":{"field":"v","type":"quantitative","axis":null},"text":{"field":"v","type":"quantitative"}}},
     {"mark":{"type":"text","text":"ch4","align":"left","baseline":"middle","fontSize":8.5,"fontWeight":"bold","color":"#e8562a"},"encoding":{"y":{"datum":321,"axis":null}}},
     {"mark":{"type":"text","text":"Int_Gyro-","align":"left","baseline":"middle","fontSize":5.5,"color":"#e8843c"},"encoding":{"y":{"datum":186,"axis":null}}},
     {"mark":{"type":"text","text":"500","align":"left","baseline":"middle","fontSize":5.5,"color":"#e8843c"},"encoding":{"y":{"datum":62,"axis":null}}}
    ]},
   {"width":342,"height":61,"view":{"fill":"#eaf5e8","stroke":null},
    "layer":[
     {"data":{"values":[{}]},"mark":{"type":"rule","color":"#f3b596","strokeWidth":1},"encoding":{"y":{"datum":0,"type":"quantitative","axis":null}}},
     {"data":{"name":"w"},"transform":[{"filter":"datum.c=='ch4'"}],"mark":{"type":"line","color":"#e8582c","strokeWidth":1,"clip":true},
      "encoding":{"x":{"field":"t","type":"quantitative","scale":{"domain":[0,20],"nice":false,"zero":false},"axis":{"values":[0,2,4,6,8,10,12,14,16,18],"grid":true,"gridColor":"#d2e2cf","labels":false,"ticks":false,"domain":false,"title":null}},
       "y":{"field":"v","type":"quantitative","scale":{"domain":[-440,470],"nice":false,"zero":false},"axis":{"values":[-400,-300,-200,-100,0,100,200,300,400],"grid":true,"gridColor":"#d2e2cf","labels":false,"ticks":false,"domain":false,"title":null}}}},
     {"data":{"values":[{}]},"mark":{"type":"rect","color":"#ffffff"},"encoding":{"x":{"datum":0.1,"axis":null},"x2":{"datum":1.75},"y":{"datum":360,"axis":null},"y2":{"datum":450}}},
     {"data":{"values":[{}]},"mark":{"type":"text","text":"deg/sec","align":"left","baseline":"middle","fontSize":6,"color":"#333333"},"encoding":{"x":{"datum":0.18,"axis":null},"y":{"datum":405,"axis":null}}}
    ]}
  ]},
  {"spacing":0,"hconcat":[
   {"width":51,"height":60,"view":{"fill":"#68bd6c","stroke":null},"data":{"values":[{}]},
    "encoding":{"x":{"datum":0.1,"type":"quantitative","scale":{"domain":[0,1]},"axis":null}},
    "layer":[
     {"data":{"name":"gyrT"},"mark":{"type":"rule","color":"#2e5e30","strokeWidth":1},"encoding":{"x":{"datum":0.94,"axis":null},"x2":{"datum":1},"y":{"field":"v","type":"quantitative","scale":{"domain":[-540,505],"nice":false,"zero":false},"axis":null}}},
     {"data":{"name":"gyrT"},"mark":{"type":"text","align":"right","baseline":"middle","fontSize":5.5,"fontWeight":"bold","color":"#1e3a1e"},"encoding":{"x":{"datum":0.91,"axis":null},"y":{"field":"v","type":"quantitative","axis":null},"text":{"field":"v","type":"quantitative"}}},
     {"mark":{"type":"text","text":"ch5","align":"left","baseline":"middle","fontSize":8.5,"fontWeight":"bold","color":"#1b6e2a"},"encoding":{"y":{"datum":348,"axis":null}}},
     {"mark":{"type":"text","text":"Int_Gyro-","align":"left","baseline":"middle","fontSize":5.5,"color":"#2f8f3c"},"encoding":{"y":{"datum":150,"axis":null}}},
     {"mark":{"type":"text","text":"500","align":"left","baseline":"middle","fontSize":5.5,"color":"#2f8f3c"},"encoding":{"y":{"datum":0,"axis":null}}}
    ]},
   {"width":342,"height":60,"view":{"fill":"#ffffff","stroke":null},
    "layer":[
     {"data":{"values":[{}]},"mark":{"type":"rule","color":"#8a8a8a","strokeWidth":1},"encoding":{"y":{"datum":0,"type":"quantitative","axis":null}}},
     {"data":{"name":"w"},"transform":[{"filter":"datum.c=='ch5'"}],"mark":{"type":"line","color":"#2e7d36","strokeWidth":1,"clip":true},
      "encoding":{"x":{"field":"t","type":"quantitative","scale":{"domain":[0,20],"nice":false,"zero":false},"axis":{"values":[0,2,4,6,8,10,12,14,16,18],"grid":true,"gridColor":"#dfe8de","labels":false,"ticks":false,"domain":false,"title":null}},
       "y":{"field":"v","type":"quantitative","scale":{"domain":[-540,505],"nice":false,"zero":false},"axis":{"values":[-400,-300,-200,-100,0,100,200,300,400],"grid":true,"gridColor":"#e3ebe2","labels":false,"ticks":false,"domain":false,"title":null}}}}
    ]}
  ]},
  {"spacing":0,"hconcat":[
   {"width":51,"height":59,"view":{"fill":"#68bd6c","stroke":null},"data":{"values":[{}]},
    "encoding":{"x":{"datum":0.1,"type":"quantitative","scale":{"domain":[0,1]},"axis":null}},
    "layer":[
     {"data":{"name":"gyrT"},"mark":{"type":"rule","color":"#2e5e30","strokeWidth":1},"encoding":{"x":{"datum":0.94,"axis":null},"x2":{"datum":1},"y":{"field":"v","type":"quantitative","scale":{"domain":[-510,516],"nice":false,"zero":false},"axis":null}}},
     {"data":{"name":"gyrT"},"mark":{"type":"text","align":"right","baseline":"middle","fontSize":5.5,"fontWeight":"bold","color":"#1e3a1e"},"encoding":{"x":{"datum":0.91,"axis":null},"y":{"field":"v","type":"quantitative","axis":null},"text":{"field":"v","type":"quantitative"}}},
     {"mark":{"type":"text","text":"ch6","align":"left","baseline":"middle","fontSize":8.5,"fontWeight":"bold","color":"#2f55b5"},"encoding":{"y":{"datum":377,"axis":null}}},
     {"mark":{"type":"text","text":"Int_Gyro-","align":"left","baseline":"middle","fontSize":5.5,"color":"#3a62c8"},"encoding":{"y":{"datum":125,"axis":null}}},
     {"mark":{"type":"text","text":"500","align":"left","baseline":"middle","fontSize":5.5,"color":"#3a62c8"},"encoding":{"y":{"datum":-22,"axis":null}}}
    ]},
   {"width":342,"height":59,"view":{"fill":"#eaf5e8","stroke":null},
    "layer":[
     {"data":{"values":[{}]},"mark":{"type":"rule","color":"#8a8a9e","strokeWidth":1},"encoding":{"y":{"datum":0,"type":"quantitative","axis":null}}},
     {"data":{"name":"w"},"transform":[{"filter":"datum.c=='ch6'"}],"mark":{"type":"line","color":"#3d4fb8","strokeWidth":1,"clip":true},
      "encoding":{"x":{"field":"t","type":"quantitative","scale":{"domain":[0,20],"nice":false,"zero":false},"axis":{"values":[0,2,4,6,8,10,12,14,16,18],"grid":true,"gridColor":"#d2e2cf","labels":false,"ticks":false,"domain":false,"title":null}},
       "y":{"field":"v","type":"quantitative","scale":{"domain":[-510,516],"nice":false,"zero":false},"axis":{"values":[-400,-300,-200,-100,0,100,200,300,400],"grid":true,"gridColor":"#d2e2cf","labels":false,"ticks":false,"domain":false,"title":null}}}}
    ]}
  ]}
 ]},
 {"spacing":0,"vconcat":[
  {"width":136,"height":217,"data":{"values":[{}]},
   "layer":[
    {"mark":{"type":"rect","fill":"#ffffff","stroke":"#b8b8b8","strokeWidth":1},"encoding":{"x":{"datum":1,"type":"quantitative","scale":{"domain":[0,136],"nice":false,"zero":false},"axis":null},"x2":{"datum":135},"y":{"datum":10,"type":"quantitative","scale":{"domain":[0,217],"reverse":true,"nice":false,"zero":false},"axis":null},"y2":{"datum":216}}},
    {"mark":{"type":"rect","fill":"#ffffff","stroke":"#b8b8b8","strokeWidth":1},"encoding":{"x":{"datum":3,"axis":null},"x2":{"datum":21},"y":{"datum":2,"axis":null},"y2":{"datum":10.5}}},
    {"mark":{"type":"rect","fill":"#e4e4e4","stroke":"#c4c4c4","strokeWidth":1},"encoding":{"x":{"datum":24,"axis":null},"x2":{"datum":46},"y":{"datum":3,"axis":null},"y2":{"datum":10}}},
    {"mark":{"type":"rect","fill":"#e4e4e4","stroke":"#c4c4c4","strokeWidth":1},"encoding":{"x":{"datum":49,"axis":null},"x2":{"datum":72},"y":{"datum":3,"axis":null},"y2":{"datum":10}}},
    {"mark":{"type":"text","text":"測定","baseline":"middle","fontSize":6.5,"color":"#333333"},"encoding":{"x":{"datum":12,"axis":null},"y":{"datum":6.5,"axis":null}}},
    {"mark":{"type":"text","text":"解析","baseline":"middle","fontSize":6.5,"color":"#333333"},"encoding":{"x":{"datum":35,"axis":null},"y":{"datum":6.5,"axis":null}}},
    {"mark":{"type":"text","text":"設定","baseline":"middle","fontSize":6.5,"color":"#333333"},"encoding":{"x":{"datum":60.5,"axis":null},"y":{"datum":6.5,"axis":null}}},
    {"mark":{"type":"text","text":"製造番号","align":"left","baseline":"middle","fontSize":6,"color":"#a6a6a6"},"encoding":{"x":{"datum":9,"axis":null},"y":{"datum":24,"axis":null}}},
    {"mark":{"type":"rect","fill":"#ffffff","stroke":"#c8c8c8","strokeWidth":1},"encoding":{"x":{"datum":9,"axis":null},"x2":{"datum":125},"y":{"datum":30,"axis":null},"y2":{"datum":41}}},
    {"mark":{"type":"text","text":"▾","baseline":"middle","fontSize":6,"color":"#999999"},"encoding":{"x":{"datum":121,"axis":null},"y":{"datum":35.5,"axis":null}}},
    {"mark":{"type":"rect","fill":"#ffffff","fillOpacity":0,"stroke":"#d0d0d0","strokeWidth":1,"cornerRadius":2},"encoding":{"x":{"datum":9,"axis":null},"x2":{"datum":125},"y":{"datum":51,"axis":null},"y2":{"datum":74}}},
    {"mark":{"type":"text","text":"計測回数","align":"left","baseline":"middle","fontSize":6,"color":"#a6a6a6"},"encoding":{"x":{"datum":11,"axis":null},"y":{"datum":48.5,"axis":null}}},
    {"mark":{"type":"text","text":"◉ 1回","align":"left","baseline":"middle","fontSize":6.5,"color":"#999999"},"encoding":{"x":{"datum":32,"axis":null},"y":{"datum":65,"axis":null}}},
    {"mark":{"type":"text","text":"○ 繰り返し","align":"left","baseline":"middle","fontSize":6.5,"color":"#999999"},"encoding":{"x":{"datum":72,"axis":null},"y":{"datum":65,"axis":null}}},
    {"mark":{"type":"text","text":"サンプリング周期","align":"right","baseline":"middle","fontSize":6,"color":"#b0b0b0"},"encoding":{"x":{"datum":60,"axis":null},"y":{"datum":85.5,"axis":null}}},
    {"mark":{"type":"rect","fill":"#f3f3f3","stroke":"#c8c8c8","strokeWidth":1},"encoding":{"x":{"datum":64,"axis":null},"x2":{"datum":125},"y":{"datum":81,"axis":null},"y2":{"datum":91}}},
    {"mark":{"type":"text","text":"▾","baseline":"middle","fontSize":6,"color":"#999999"},"encoding":{"x":{"datum":121,"axis":null},"y":{"datum":86,"axis":null}}},
    {"mark":{"type":"text","text":"測定時間(秒)","align":"right","baseline":"middle","fontSize":6,"color":"#b0b0b0"},"encoding":{"x":{"datum":60,"axis":null},"y":{"datum":103,"axis":null}}},
    {"mark":{"type":"rect","fill":"#f3f3f3","stroke":"#c8c8c8","strokeWidth":1},"encoding":{"x":{"datum":64,"axis":null},"x2":{"datum":125},"y":{"datum":98,"axis":null},"y2":{"datum":108}}},
    {"mark":{"type":"rect","fill":"#f8f8f8","stroke":"#c8c8c8","strokeWidth":0.8},"encoding":{"x":{"datum":117,"axis":null},"x2":{"datum":124},"y":{"datum":99,"axis":null},"y2":{"datum":107}}},
    {"mark":{"type":"text","text":"10","align":"right","baseline":"middle","fontSize":6,"color":"#aaaaaa"},"encoding":{"x":{"datum":115,"axis":null},"y":{"datum":103,"axis":null}}},
    {"mark":{"type":"rect","fill":"#ffffff","stroke":"#a8a8a8","strokeWidth":0.8},"encoding":{"x":{"datum":12,"axis":null},"x2":{"datum":18},"y":{"datum":118,"axis":null},"y2":{"datum":124}}},
    {"mark":{"type":"text","text":"ファイル自動保存","align":"left","baseline":"middle","fontSize":6.5,"color":"#888888"},"encoding":{"x":{"datum":21,"axis":null},"y":{"datum":121,"axis":null}}},
    {"mark":{"type":"rect","fill":"#f0f0f0","stroke":"#b8b8b8","strokeWidth":1},"encoding":{"x":{"datum":9,"axis":null},"x2":{"datum":65},"y":{"datum":134,"axis":null},"y2":{"datum":149}}},
    {"mark":{"type":"rect","fill":"#f0f0f0","stroke":"#b8b8b8","strokeWidth":1},"encoding":{"x":{"datum":69,"axis":null},"x2":{"datum":125},"y":{"datum":134,"axis":null},"y2":{"datum":149}}},
    {"mark":{"type":"text","text":"開始","baseline":"middle","fontSize":6.5,"color":"#666666"},"encoding":{"x":{"datum":37,"axis":null},"y":{"datum":141.5,"axis":null}}},
    {"mark":{"type":"text","text":"停止","baseline":"middle","fontSize":6.5,"color":"#666666"},"encoding":{"x":{"datum":97,"axis":null},"y":{"datum":141.5,"axis":null}}}
   ]},
  {"width":136,"height":100,"view":{"fill":"#ffffff","stroke":"#c0c0c0"},
   "layer":[
    {"data":{"name":"mx"},"mark":{"type":"rect","fill":"#ffffff","stroke":"#c8c8c8","strokeWidth":1},"encoding":{"x":{"datum":24,"type":"quantitative","scale":{"domain":[0,136],"nice":false,"zero":false},"axis":null},"x2":{"datum":60},"y":{"field":"ch","type":"nominal","scale":{"type":"band","domain":["最大値","ch1","ch2","ch3","ch4","ch5","ch6"],"range":[8.25,81.75],"paddingInner":0.2,"paddingOuter":0},"axis":null}}},
    {"data":{"name":"mx"},"mark":{"type":"rect","fill":"#ffffff","stroke":"#c8c8c8","strokeWidth":1},"encoding":{"x":{"datum":75,"axis":null},"x2":{"datum":105},"y":{"field":"ch","type":"nominal","axis":null}}},
    {"data":{"values":[{"ch":"最大値"}]},"mark":{"type":"text","align":"left","baseline":"middle","fontSize":6.5,"fontWeight":"bold","color":"#333333"},"encoding":{"x":{"datum":8,"axis":null},"y":{"field":"ch","type":"nominal","axis":null},"text":{"field":"ch"}}},
    {"data":{"name":"mx"},"mark":{"type":"text","align":"left","baseline":"middle","fontSize":6,"color":"#333333"},"encoding":{"x":{"datum":8,"axis":null},"y":{"field":"ch","type":"nominal","axis":null},"text":{"field":"ch"}}},
    {"data":{"name":"mx"},"mark":{"type":"text","align":"right","baseline":"middle","fontSize":6,"color":"#333333"},"encoding":{"x":{"datum":58,"axis":null},"y":{"field":"ch","type":"nominal","axis":null},"text":{"field":"time","type":"quantitative","format":".3f"}}},
    {"data":{"name":"mx"},"mark":{"type":"text","text":"sec","align":"left","baseline":"middle","fontSize":6,"color":"#333333"},"encoding":{"x":{"datum":62,"axis":null},"y":{"field":"ch","type":"nominal","axis":null}}},
    {"data":{"name":"mx"},"mark":{"type":"text","align":"right","baseline":"middle","fontSize":6,"color":"#333333"},"encoding":{"x":{"datum":103,"axis":null},"y":{"field":"ch","type":"nominal","axis":null},"text":{"field":"val","type":"quantitative","format":".3f"}}},
    {"data":{"name":"mx"},"mark":{"type":"text","align":"left","baseline":"middle","fontSize":6,"color":"#333333"},"encoding":{"x":{"datum":107,"axis":null},"y":{"field":"ch","type":"nominal","axis":null},"text":{"field":"unit"}}}
   ]}
 ]}
],"spacing":2}
]
}
